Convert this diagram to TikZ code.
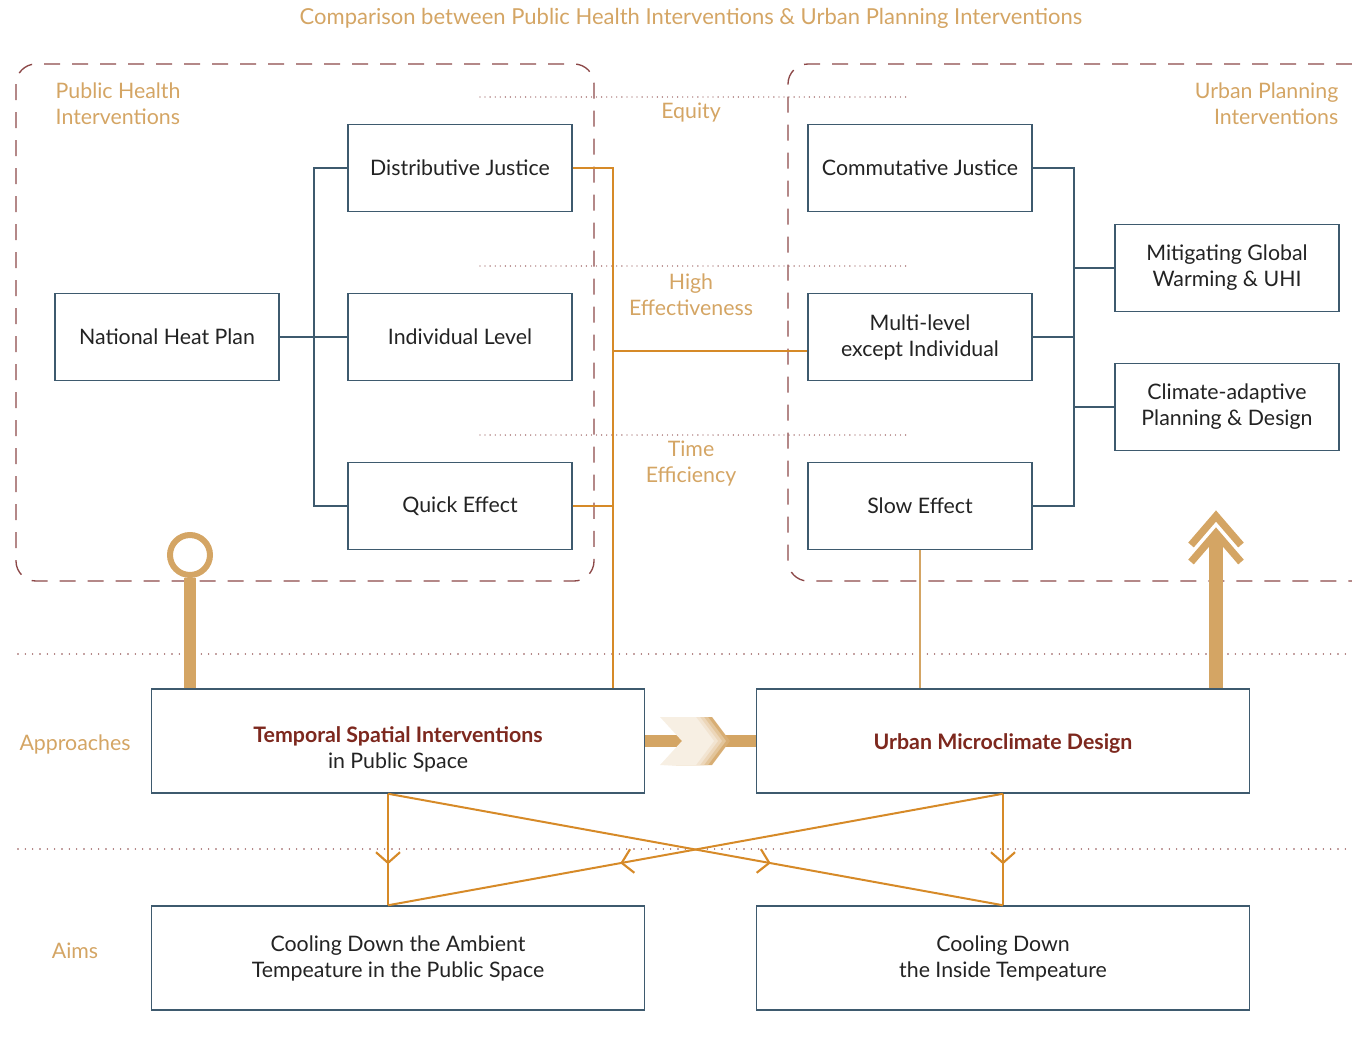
\documentclass[tikz,border=0pt]{standalone}
\usepackage{fontspec}
\setmainfont{Lato}
\usetikzlibrary{arrows.meta,decorations.markings}
\definecolor{phgold}{RGB}{212,165,100}
\definecolor{framewine}{RGB}{140,72,72}
\definecolor{boxslate}{RGB}{62,90,110}
\definecolor{linkamber}{RGB}{214,138,40}
\definecolor{titlewine}{RGB}{125,40,30}
\definecolor{inkgrey}{RGB}{35,35,35}
\newcommand\boxfont{\fontsize{16}{19.5}\selectfont}
\tikzset{
    plain-box/.style = {draw=boxslate, fill=white, text=inkgrey, line width=1.1pt, rectangle, minimum width=168pt, minimum height=65pt, align=center, font=\boxfont},
    wide-box/.style = {plain-box, minimum width=370pt, minimum height=78pt},
    gold-label/.style = {text=phgold, font=\boxfont, align=center},
    group-frame/.style = {draw=framewine, line width=1pt, dash pattern=on 12pt off 9pt, rounded corners=15pt},
    row-rule/.style = {draw=framewine, line width=1.2pt, line cap=round, dash pattern=on 0pt off 5.5pt},
    fine-rule/.style = {draw=framewine, line width=1pt, line cap=round, dash pattern=on 0pt off 3.8pt},
    tree-line/.style = {draw=boxslate, line width=1.1pt},
    link-line/.style = {draw=linkamber, line width=1.5pt},
    mid-arrow/.style = {link-line, postaction={decorate}, decoration={markings, mark=at position 0.62 with {\draw[linkamber, line width=1.6pt, solid] (-8pt,-9pt) -- (0pt,0pt) -- (-8pt,9pt);}}},
}

\begin{document}
\begin{tikzpicture}[x=0.75pt, y=-0.75pt]
\useasboundingbox (0,0) rectangle (1352,1057);

% frames and rules
\draw[group-frame] (16,64) rectangle (594,581);
\draw[group-frame] (1352,64) -- (788,64) -- (788,581) -- (1352,581);
\foreach \y in {97,266,435}
    \draw[fine-rule] (480,\y) -- (908,\y);
\foreach \y in {654,849}
    \draw[row-rule] (18,\y) -- (1352,\y);

% labels
\node[gold-label, font=\fontsize{16.5}{19.5}\selectfont] (title) at (691,18) {Comparison between Public Health Interventions \& Urban Planning Interventions};
\node[gold-label, align=left, anchor=west] (phi) at (51,104) {Public Health\\Interventions};
\node[gold-label, align=right, anchor=east] (upi) at (1343,104) {Urban Planning\\Interventions};
\node[gold-label] (equity) at (691,113) {Equity};
\node[gold-label] (effect) at (691,295) {High\\Effectiveness};
\node[gold-label] (timing) at (691,464) {Time\\Efficiency};
\node[gold-label] (appr) at (75,744) {Approaches};
\node[gold-label] (aims) at (75,951) {Aims};

% boxes
\node[plain-box] (nhp) at (167,337) {National Heat Plan};
\node[plain-box] (dj) at (460,168) {Distributive Justice};
\node[plain-box] (il) at (460,337) {Individual Level};
\node[plain-box] (qe) at (460,506) {Quick Effect};
\node[plain-box] (cj) at (920,168) {Commutative Justice};
\node[plain-box] (ml) at (920,337) {Multi-level\\except Individual};
\node[plain-box] (se) at (920,506) {Slow Effect};
\node[plain-box] (mg) at (1227,268) {Mitigating Global\\Warming \& UHI};
\node[plain-box] (ca) at (1227,407) {Climate-adaptive\\Planning \& Design};
\node[wide-box] (tsi) at (398,741) {\rule{0pt}{24pt}\textcolor{titlewine}{\bfseries Temporal Spatial Interventions}\\in Public Space};
\node[wide-box] (ump) at (1003,741) {\rule{0pt}{15pt}\textcolor{titlewine}{\bfseries Urban Microclimate Design}};
\node[wide-box] (cda) at (398,958) {Cooling Down the Ambient\\Tempeature in the Public Space};
\node[wide-box] (cdi) at (1003,958) {Cooling Down\\the Inside Tempeature};

% trees
\coordinate (ltrunk) at (314,337);
\coordinate (rtrunk) at (1074,337);
\draw[tree-line] (nhp) -- (ltrunk);
\draw[tree-line] (il) -- (ltrunk);
\draw[tree-line] (dj.west) -| (ltrunk);
\draw[tree-line] (qe.west) -| (ltrunk);
\draw[tree-line] (ml) -- (rtrunk);
\draw[tree-line] (cj.east) -| (rtrunk);
\draw[tree-line] (se.east) -| (rtrunk);
\draw[tree-line] (mg.west) -| (rtrunk);
\draw[tree-line] (ca.west) -| (rtrunk);

% links
\coordinate (ojoin) at (613,351);
\draw[link-line] (dj.east) -| (ojoin |- tsi.north);
\draw[link-line] (qe.east) -| (ojoin);
\draw[link-line] (ojoin) -- (ojoin -| ml.west);
\draw[link-line, draw=phgold] (se.south) -- (se.south |- ump.north);

% pin and rising arrow
\node[circle, draw=phgold, line width=4.5pt, minimum size=30pt, inner sep=0pt] (pin) at (190,555) {};
\draw[phgold, line width=9pt] (tsi.north -| pin) -- (pin.south);
\coordinate (rise) at (1216,516);
\draw[phgold, line width=10pt] (ump.north -| rise) -- ([yshift=-16pt]rise);
\draw[phgold, line width=5.5pt] ([shift={(-25,29)}]rise) -- (rise) -- ([shift={(25,29)}]rise);
\draw[phgold, line width=5.5pt] ([shift={(-25,46)}]rise) -- ([shift={(0,17)}]rise) -- ([shift={(25,46)}]rise);

% chevron link
\draw[phgold, line width=9pt] (tsi.east) -- (ump.west);
\foreach \dx/\tone in {14/90, 10/65, 6/45, 2/30, -2/18}
    \fill[phgold!\tone] (662+\dx,717) -- (698+\dx,717) -- (716+\dx,741) -- (698+\dx,765) -- (662+\dx,765) -- (684+\dx,741) -- cycle;

% cross
\coordinate (lx) at (388,0);
\draw[mid-arrow] (tsi.south -| lx) -- (cda.north -| lx);
\draw[mid-arrow] (ump.south) -- (cdi.north);
\draw[mid-arrow] (tsi.south -| lx) -- (cdi.north);
\draw[mid-arrow] (ump.south) -- (cda.north -| lx);
\end{tikzpicture}
\end{document}
